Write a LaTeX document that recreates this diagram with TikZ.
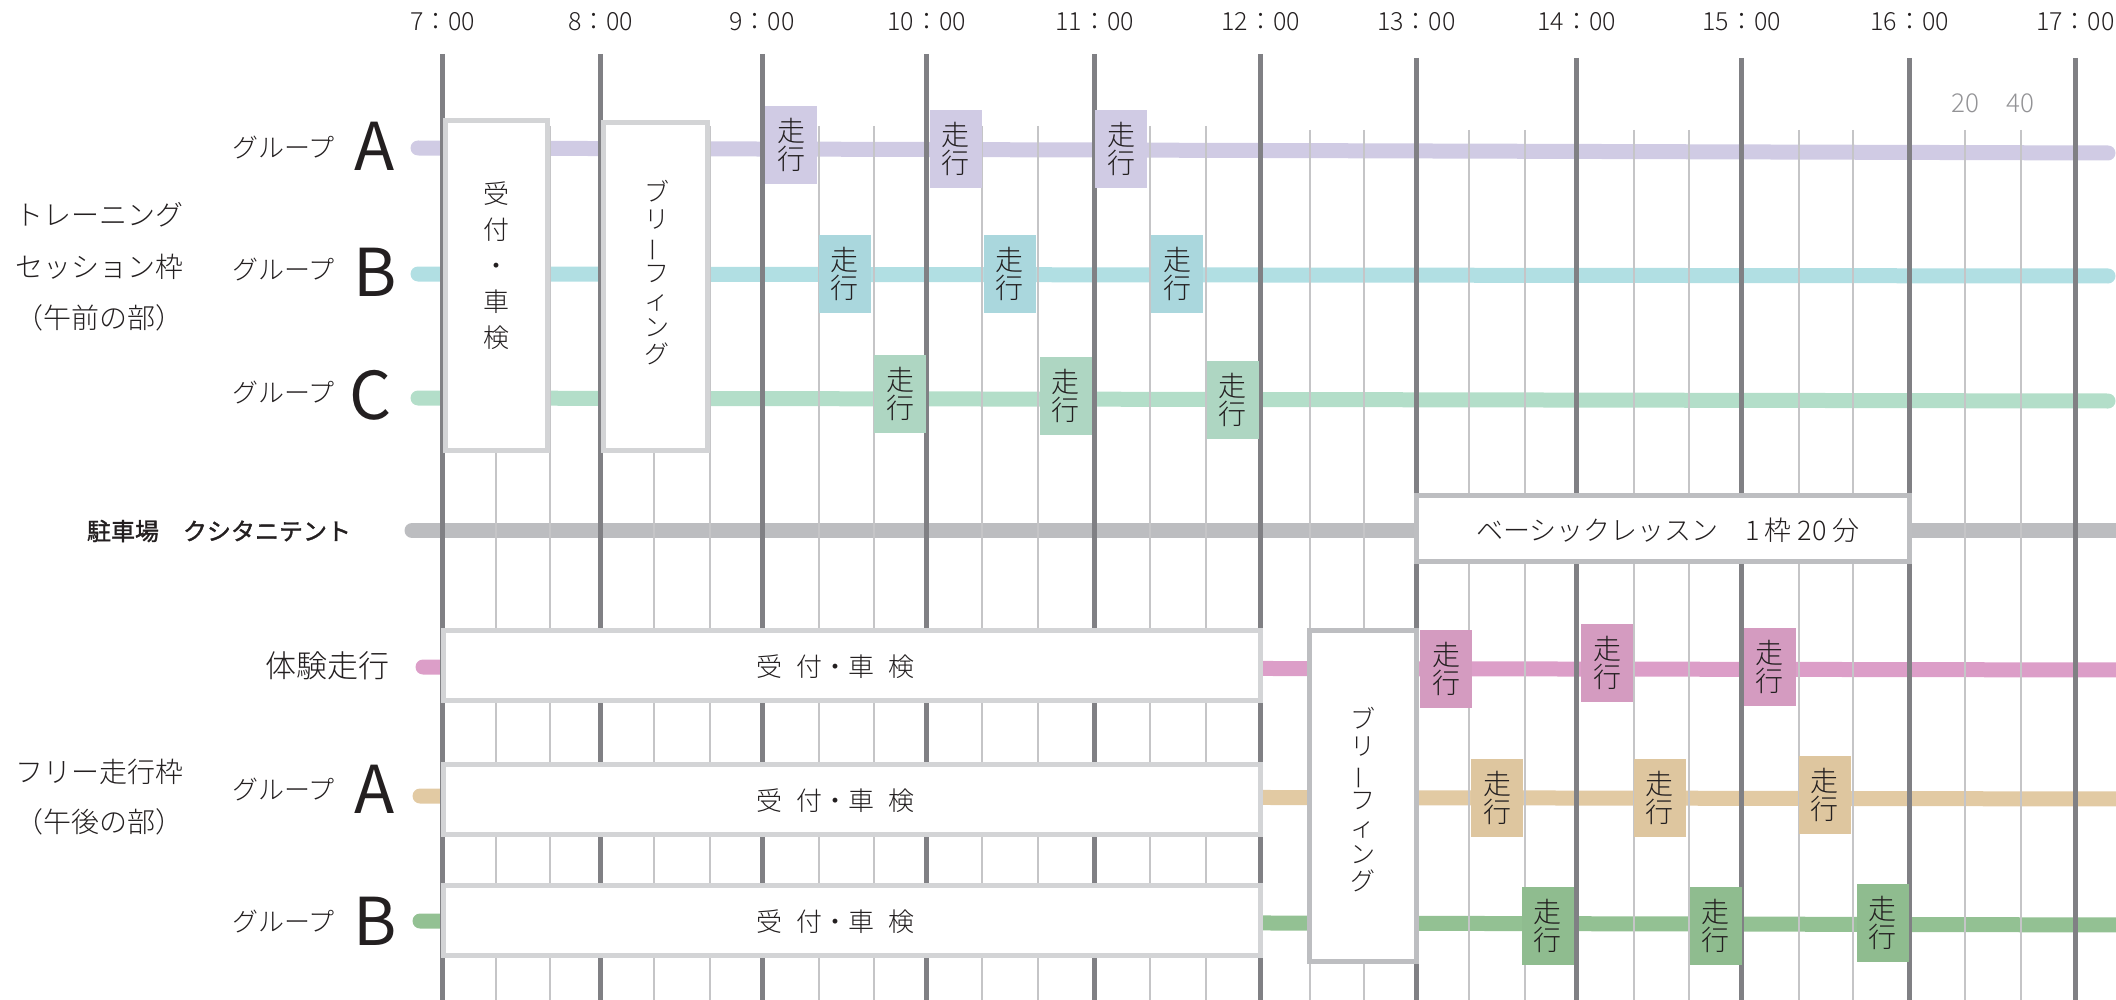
\documentclass[tikz,border=0pt]{standalone}
\usepackage{fontspec}
\usepackage{graphicx}
\setmainfont{Noto Sans CJK JP Light}
\newfontfamily\boldjp[FakeBold=1.5]{Noto Sans CJK JP}
\newfontfamily\latinjp{Noto Sans CJK JP}
\definecolor{lavA}{HTML}{D0CBE4}
\definecolor{cyanB}{HTML}{B1DFE3}
\definecolor{cyanBrun}{HTML}{AAD7DD}
\definecolor{mintC}{HTML}{B3DEC9}
\definecolor{mintCrun}{HTML}{AED6C2}
\definecolor{parkgray}{HTML}{BCBDC0}
\definecolor{pinkX}{HTML}{DC9EC8}
\definecolor{pinkXrun}{HTML}{D49BC0}
\definecolor{tanF}{HTML}{E2CAA3}
\definecolor{tanFrun}{HTML}{DEC69F}
\definecolor{greenF}{HTML}{93C193}
\definecolor{greenFrun}{HTML}{8FBC8F}
\definecolor{hourline}{HTML}{808084}
\definecolor{subline}{HTML}{C5C5C7}
\definecolor{lightframe}{HTML}{D3D4D6}
\definecolor{darkframe}{HTML}{BDBEC1}
\definecolor{minutegray}{HTML}{939396}
\definecolor{ink}{HTML}{231F20}
\newcommand{\vbar}{\rotatebox[origin=c]{90}{ー}}
\begin{document}
\begin{tikzpicture}[x=1pt, y=-1pt, every node/.style={text=ink},
    band/.style={line width=15pt, line cap=round},
    hour/.style={line width=5pt, hourline},
    sub/.style={line width=2pt, subline},
    frame/.style={draw=#1, line width=5pt, fill=white, inner sep=0pt},
    run/.style={fill=#1, minimum width=52, minimum height=78, inner sep=0pt, align=center, font=\fontsize{28}{28}\selectfont},
    grp/.style={anchor=east, font=\fontsize{26}{26}\selectfont},
    abc/.style={font=\latinjp\fontsize{66}{66}\selectfont}]
  \useasboundingbox (0,0) rectangle (2116,1000);

  \draw[band, lavA] (418,148) -- (2108,153);
  \draw[band, cyanB] (418,274) -- (2108,276);
  \draw[band, mintC] (418,398) -- (2108,401);
  \draw[band, parkgray] (412,530.5) -- (2130,530.5);
  \draw[band, pinkX] (423,667) -- (2130,670);
  \draw[band, tanF] (420,796) -- (2130,799);
  \draw[band, greenF] (420,921) -- (2130,925);

  \foreach \x/\t/\top in {442.6/7/54, 600.8/8/54, 762.1/9/54, 926.7/10/54, 1094.7/11/54, 1260.5/12/54,
      1416.4/13/58, 1576.5/14/58, 1741.6/15/58, 1909.6/16/58, 2075.4/17/58} {
    \draw[hour] (\x,\top) -- (\x,1000);
    \node[font=\fontsize{25}{25}\selectfont] (h\t) at (\x,22) {\t：00};
  }
  \foreach \x/\top in {495.5/126, 549.7/126, 654.3/126, 709.8/126, 818.9/126, 873.7/126, 982.1/126,
      1038.4/126, 1150.2/126, 1205.7/126, 1309.6/130, 1364.4/130, 1469/130, 1524.6/130, 1633.5/130,
      1689/130, 1798.6/130, 1853.4/130, 1965/130, 2020.6/130}
    \draw[sub] (\x,\top) -- (\x,1000);
  \node[text=minutegray, font=\fontsize{26}{26}\selectfont] (m20) at (1965,103) {20};
  \node[text=minutegray, font=\fontsize{26}{26}\selectfont] (m40) at (2020.6,103) {40};

  \node[frame=lightframe, minimum width=102, minimum height=330] (regAM) at (496.2,285.5) {};
  \node[font=\fontsize{26}{36}\selectfont, align=center] (regAMtxt) at (496,265.5) {受\\付\\・\\車\\検};
  \node[frame=lightframe, minimum width=104, minimum height=328] (brfAM) at (655.4,286.5) {};
  \node[font=\fontsize{25}{27}\selectfont, align=center] (brfAMtxt) at (657,272.5) {ブ\\リ\\\vbar\\フ\\ィ\\ン\\グ};

  \foreach \y/\nm in {665.5/regX, 799.5/regF, 920.5/regG} {
    \node[frame=lightframe, minimum width=817, minimum height=70] (\nm) at (852,\y) {};
    \node[font=\fontsize{26}{26}\selectfont] (\nm txt) at (835.5,\y+1) {受\hspace{14pt}付・車\hspace{14pt}検};
  }
  \node[frame=darkframe, minimum width=107, minimum height=331] (brfPM) at (1363,796) {};
  \node[font=\fontsize{25}{27}\selectfont, align=center] (brfPMtxt) at (1363,800) {ブ\\リ\\\vbar\\フ\\ィ\\ン\\グ};
  \node[frame=darkframe, minimum width=493, minimum height=66] (lesson) at (1663,528.5) {};
  \node[font=\fontsize{27}{27}\selectfont] (lessontxt) at (1668,530) {ベーシックレッスン　1\,枠 20 分};

  \foreach \x/\y/\col/\nm in {791/145/lavA/runA1, 955.5/149/lavA/runA2, 1121.3/149/lavA/runA3,
      844.8/274/cyanBrun/runB1, 1009.5/274/cyanBrun/runB2, 1177/274/cyanBrun/runB3,
      900/394/mintCrun/runC1, 1065.8/395.5/mintCrun/runC2, 1232.5/400/mintCrun/runC3,
      1446/669/pinkXrun/runX1, 1607/663/pinkXrun/runX2, 1769.5/667/pinkXrun/runX3,
      1497/798/tanFrun/runF1, 1659.5/798/tanFrun/runF2, 1824.5/794.5/tanFrun/runF3,
      1547.7/926/greenFrun/runG1, 1715.5/926/greenFrun/runG2, 1882.5/923/greenFrun/runG3}
    \node[run=\col] (\nm) at (\x,\y) {走\\行};

  \node[align=center, font=\fontsize{28}{51.5}\selectfont] (am) at (99,267) {トレーニング\\セッション枠\\（午前の部）};
  \node[grp] (grpA) at (338,148) {グループ};
  \node[abc] (letA) at (375,146) {A};
  \node[grp] (grpB) at (338,270) {グループ};
  \node[abc] (letB) at (375,272) {B};
  \node[grp] (grpC) at (338,393) {グループ};
  \node[abc] (letC) at (371,395) {C};

  \node[font=\boldjp\fontsize{24}{24}\selectfont] (park) at (219,531) {駐車場　クシタニテント};

  \node[anchor=east, font=\fontsize{31}{31}\selectfont] (trial) at (393,666) {体験走行};
  \node[align=center, font=\fontsize{28}{50}\selectfont] (pm) at (99,797) {フリー走行枠\\（午後の部）};
  \node[grp] (grpFA) at (338,789) {グループ};
  \node[abc] (letFA) at (375,789.5) {A};
  \node[grp] (grpFB) at (338,921) {グループ};
  \node[abc] (letFB) at (375,921) {B};
\end{tikzpicture}
\end{document}
